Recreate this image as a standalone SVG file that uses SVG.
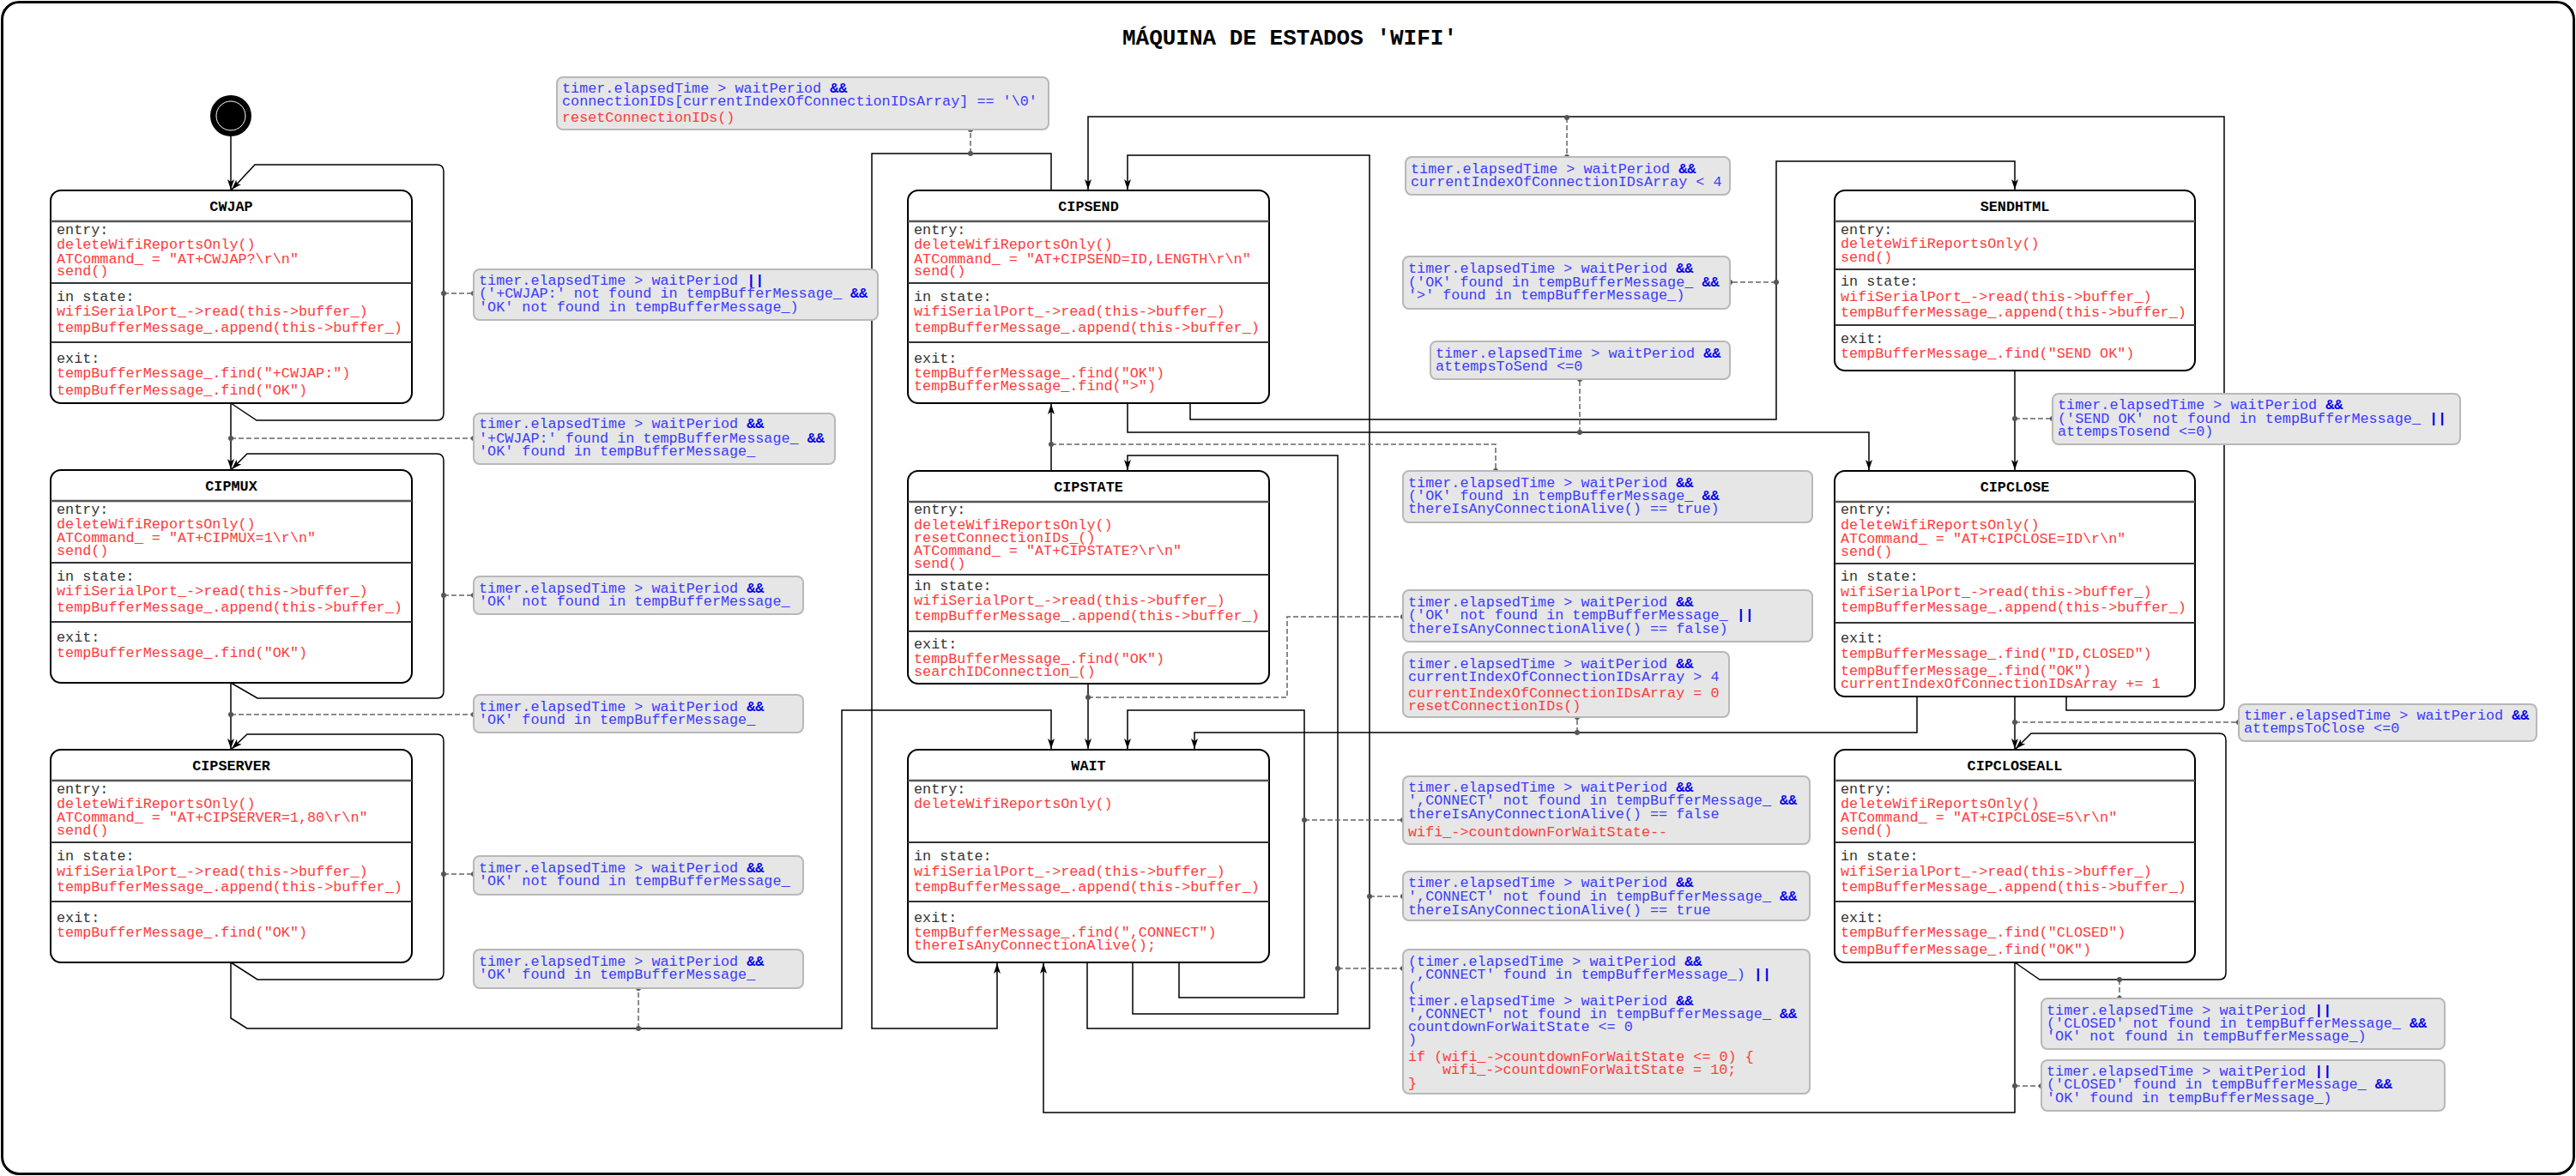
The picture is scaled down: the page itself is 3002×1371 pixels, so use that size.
<svg xmlns="http://www.w3.org/2000/svg" width="3002" height="1371" viewBox="0 0 3002 1371">
<defs>
<marker id="arr" markerUnits="userSpaceOnUse" markerWidth="13" markerHeight="10" refX="12" refY="4" orient="auto">
<path d="M0,0 L12,4 L0,8 L3,4 Z" fill="#000"/>
</marker>
<style>
text{font-family:"Liberation Mono","Courier New",monospace;font-size:16.8px;}
.box{fill:#fff;stroke:#000;stroke-width:2;}
.hs{stroke:#555;stroke-width:2.5;}
.sp{stroke:#333;stroke-width:2;}
.ttl{font-weight:bold;fill:#000;text-anchor:middle;}
.k{fill:#333;}
.r{fill:#ff3b3b;}
.b{fill:#3b3bff;}
.op{font-weight:bold;fill:#0000ee;}
.lb{fill:#e6e6e6;stroke:#b8b8b8;stroke-width:2;}
.c{fill:none;stroke:#000;stroke-width:1.5;}
.ca{fill:none;stroke:#000;stroke-width:1.5;marker-end:url(#arr);}
.d{fill:none;stroke:#666;stroke-width:1.5;stroke-dasharray:6 3;}
.dot{fill:#555;}
</style>
</defs>
<rect x="0" y="0" width="3002" height="1371" fill="#fff"/>
<rect x="2.5" y="2.5" width="2997" height="1366" rx="20" fill="none" stroke="#000" stroke-width="3"/>
<text x="1503" y="52" style="font-size:26px;font-weight:bold;text-anchor:middle;">MÁQUINA DE ESTADOS 'WIFI'</text>

<g id="connectors">
<path class="ca" d="M269,158 L269,221"/>
<path class="ca" d="M269,470 L299,490 L509,490 Q517,490 517,482 L517,200 Q517,192 509,192 L297,192 L270,221"/>
<path class="ca" d="M269,470 L269,547"/>
<path class="ca" d="M269,796 L300,814 L509,814 Q517,814 517,806 L517,537 Q517,529 509,529 L288,529 L270,547"/>
<path class="ca" d="M269,796 L269,873"/>
<path class="ca" d="M269,1122 L300,1142 L509,1142 Q517,1142 517,1134 L517,864 Q517,856 509,856 L288,856 L270,873"/>
<path class="ca" d="M269,1122 L269,1187 L288,1199 L981,1199 L981,828 L1225,828 L1225,873"/>
<path class="ca" d="M1225,222 L1225,179 L1016,179 L1016,1199 L1162,1199 L1162,1123"/>
<path class="ca" d="M1225,549 L1225,471"/>
<path class="ca" d="M1314,470 L1314,504 L2178,504 L2178,548"/>
<path class="ca" d="M1387,470 L1387,489 L2070,489 L2070,188 L2348,188 L2348,221"/>
<path class="ca" d="M2408,812 L2408,828 L2584,828 Q2592,828 2592,820 L2592,136 L1268,136 L1268,221"/>
<path class="ca" d="M1267,1122 L1267,1199 L1596,1199 L1596,181 L1314,181 L1314,221"/>
<path class="ca" d="M1320,1122 L1320,1182 L1559,1182 L1559,531 L1314,531 L1314,548"/>
<path class="ca" d="M1374,1122 L1374,1163 L1520,1163 L1520,828 L1314,828 L1314,873"/>
<path class="ca" d="M1268,797 L1268,873"/>
<path class="ca" d="M2234,812 L2234,854 L1392,854 L1392,873"/>
<path class="ca" d="M2348,432 L2348,548"/>
<path class="ca" d="M2348,812 L2348,873"/>
<path class="ca" d="M2348,1122 L2377,1142 L2586,1142 Q2594,1142 2594,1134 L2594,863 Q2594,855 2586,855 L2367,855 L2349,873"/>
<path class="ca" d="M2348,1122 L2348,1297 L1216,1297 L1216,1123"/>

<path class="d" d="M517,342 L552,342"/>
<path class="d" d="M269,511 L552,511"/>
<path class="d" d="M517,694 L552,694"/>
<path class="d" d="M269,833 L552,833"/>
<path class="d" d="M517,1019 L552,1019"/>
<path class="d" d="M744,1199 L744,1152"/>
<path class="d" d="M1131,179 L1131,151"/>
<path class="d" d="M1225,518 L1743,518 L1743,549"/>
<path class="d" d="M1841,504 L1841,442"/>
<path class="d" d="M2070,329 L2016,329"/>
<path class="d" d="M1826,137 L1826,183"/>
<path class="d" d="M1596,1045 L1635,1045"/>
<path class="d" d="M1559,1129 L1635,1129"/>
<path class="d" d="M1520,956 L1635,956"/>
<path class="d" d="M1268,813 L1500,813 L1500,719 L1635,719"/>
<path class="d" d="M1838,854 L1838,836"/>
<path class="d" d="M2348,488 L2392,488"/>
<path class="d" d="M2348,842 L2609,842"/>
<path class="d" d="M2470,1142 L2470,1164"/>
<path class="d" d="M2348,1266 L2379,1266"/>
<g class="dot">
<circle cx="517" cy="342" r="3"/><circle cx="552" cy="342" r="3"/>
<circle cx="269" cy="511" r="3"/><circle cx="552" cy="511" r="3"/>
<circle cx="517" cy="694" r="3"/><circle cx="552" cy="694" r="3"/>
<circle cx="269" cy="833" r="3"/><circle cx="552" cy="833" r="3"/>
<circle cx="517" cy="1019" r="3"/><circle cx="552" cy="1019" r="3"/>
<circle cx="744" cy="1199" r="3"/><circle cx="744" cy="1152" r="3"/>
<circle cx="1131" cy="179" r="3"/><circle cx="1131" cy="151" r="3"/>
<circle cx="1225" cy="518" r="3"/><circle cx="1743" cy="549" r="3"/>
<circle cx="1841" cy="504" r="3"/><circle cx="1841" cy="442" r="3"/>
<circle cx="2070" cy="329" r="3"/><circle cx="2016" cy="329" r="3"/>
<circle cx="1826" cy="137" r="3"/><circle cx="1826" cy="183" r="3"/>
<circle cx="1596" cy="1045" r="3"/><circle cx="1635" cy="1045" r="3"/>
<circle cx="1559" cy="1129" r="3"/><circle cx="1635" cy="1129" r="3"/>
<circle cx="1520" cy="956" r="3"/><circle cx="1635" cy="956" r="3"/>
<circle cx="1268" cy="813" r="3"/><circle cx="1635" cy="719" r="3"/>
<circle cx="1838" cy="854" r="3"/><circle cx="1838" cy="836" r="3"/>
<circle cx="2348" cy="488" r="3"/><circle cx="2392" cy="488" r="3"/>
<circle cx="2348" cy="842" r="3"/><circle cx="2609" cy="842" r="3"/>
<circle cx="2470" cy="1142" r="3"/><circle cx="2470" cy="1164" r="3"/>
<circle cx="2348" cy="1266" r="3"/><circle cx="2379" cy="1266" r="3"/>
</g>
</g>

<g id="initial">
<circle cx="269" cy="135" r="24" fill="#000"/>
<circle cx="269" cy="135" r="17" fill="none" stroke="#fff" stroke-width="1"/>
</g>

<g id="CWJAP">
<rect class="box" x="59" y="222" width="421" height="248" rx="12"/>
<line class="hs" x1="59" y1="258" x2="480" y2="258"/>
<line class="sp" x1="59" y1="330" x2="480" y2="330"/>
<line class="sp" x1="59" y1="399" x2="480" y2="399"/>
<text class="ttl" x="269.5" y="246">CWJAP</text>
<text class="k" x="66" y="273">entry:</text>
<text class="r" x="66" y="290">deleteWifiReportsOnly()</text>
<text class="r" x="66" y="307">ATCommand_ = "AT+CWJAP?\r\n"</text>
<text class="r" x="66" y="321">send()</text>
<text class="k" x="66" y="351">in state:</text>
<text class="r" x="66" y="368">wifiSerialPort_-&gt;read(this-&gt;buffer_)</text>
<text class="r" x="66" y="387">tempBufferMessage_.append(this-&gt;buffer_)</text>
<text class="k" x="66" y="423">exit:</text>
<text class="r" x="66" y="440">tempBufferMessage_.find("+CWJAP:")</text>
<text class="r" x="66" y="460">tempBufferMessage_.find("OK")</text>
</g>

<g id="CIPMUX">
<rect class="box" x="59" y="548" width="421" height="248" rx="12"/>
<line class="hs" x1="59" y1="584" x2="480" y2="584"/>
<line class="sp" x1="59" y1="656" x2="480" y2="656"/>
<line class="sp" x1="59" y1="725" x2="480" y2="725"/>
<text class="ttl" x="269.5" y="572">CIPMUX</text>
<text class="k" x="66" y="599">entry:</text>
<text class="r" x="66" y="616">deleteWifiReportsOnly()</text>
<text class="r" x="66" y="632">ATCommand_ = "AT+CIPMUX=1\r\n"</text>
<text class="r" x="66" y="647">send()</text>
<text class="k" x="66" y="677">in state:</text>
<text class="r" x="66" y="694">wifiSerialPort_-&gt;read(this-&gt;buffer_)</text>
<text class="r" x="66" y="713">tempBufferMessage_.append(this-&gt;buffer_)</text>
<text class="k" x="66" y="748">exit:</text>
<text class="r" x="66" y="766">tempBufferMessage_.find("OK")</text>
</g>

<g id="CIPSERVER">
<rect class="box" x="59" y="874" width="421" height="248" rx="12"/>
<line class="hs" x1="59" y1="910" x2="480" y2="910"/>
<line class="sp" x1="59" y1="982" x2="480" y2="982"/>
<line class="sp" x1="59" y1="1051" x2="480" y2="1051"/>
<text class="ttl" x="269.5" y="898">CIPSERVER</text>
<text class="k" x="66" y="925">entry:</text>
<text class="r" x="66" y="942">deleteWifiReportsOnly()</text>
<text class="r" x="66" y="958">ATCommand_ = "AT+CIPSERVER=1,80\r\n"</text>
<text class="r" x="66" y="973">send()</text>
<text class="k" x="66" y="1003">in state:</text>
<text class="r" x="66" y="1021">wifiSerialPort_-&gt;read(this-&gt;buffer_)</text>
<text class="r" x="66" y="1039">tempBufferMessage_.append(this-&gt;buffer_)</text>
<text class="k" x="66" y="1075">exit:</text>
<text class="r" x="66" y="1092">tempBufferMessage_.find("OK")</text>
</g>

<g id="CIPSEND">
<rect class="box" x="1058" y="222" width="421" height="248" rx="12"/>
<line class="hs" x1="1058" y1="258" x2="1479" y2="258"/>
<line class="sp" x1="1058" y1="330" x2="1479" y2="330"/>
<line class="sp" x1="1058" y1="399" x2="1479" y2="399"/>
<text class="ttl" x="1268.5" y="246">CIPSEND</text>
<text class="k" x="1065" y="273">entry:</text>
<text class="r" x="1065" y="290">deleteWifiReportsOnly()</text>
<text class="r" x="1065" y="307">ATCommand_ = "AT+CIPSEND=ID,LENGTH\r\n"</text>
<text class="r" x="1065" y="321">send()</text>
<text class="k" x="1065" y="351">in state:</text>
<text class="r" x="1065" y="368">wifiSerialPort_-&gt;read(this-&gt;buffer_)</text>
<text class="r" x="1065" y="387">tempBufferMessage_.append(this-&gt;buffer_)</text>
<text class="k" x="1065" y="423">exit:</text>
<text class="r" x="1065" y="440">tempBufferMessage_.find("OK")</text>
<text class="r" x="1065" y="455">tempBufferMessage_.find("&gt;")</text>
</g>

<g id="CIPSTATE">
<rect class="box" x="1058" y="549" width="421" height="248" rx="12"/>
<line class="hs" x1="1058" y1="585" x2="1479" y2="585"/>
<line class="sp" x1="1058" y1="670" x2="1479" y2="670"/>
<line class="sp" x1="1058" y1="736" x2="1479" y2="736"/>
<text class="ttl" x="1268.5" y="573">CIPSTATE</text>
<text class="k" x="1065" y="599">entry:</text>
<text class="r" x="1065" y="617">deleteWifiReportsOnly()</text>
<text class="r" x="1065" y="632">resetConnectionIDs_()</text>
<text class="r" x="1065" y="647">ATCommand_ = "AT+CIPSTATE?\r\n"</text>
<text class="r" x="1065" y="662">send()</text>
<text class="k" x="1065" y="688">in state:</text>
<text class="r" x="1065" y="705">wifiSerialPort_-&gt;read(this-&gt;buffer_)</text>
<text class="r" x="1065" y="723">tempBufferMessage_.append(this-&gt;buffer_)</text>
<text class="k" x="1065" y="756">exit:</text>
<text class="r" x="1065" y="773">tempBufferMessage_.find("OK")</text>
<text class="r" x="1065" y="788">searchIDConnection_()</text>
</g>

<g id="WAIT">
<rect class="box" x="1058" y="874" width="421" height="248" rx="12"/>
<line class="hs" x1="1058" y1="910" x2="1479" y2="910"/>
<line class="sp" x1="1058" y1="982" x2="1479" y2="982"/>
<line class="sp" x1="1058" y1="1051" x2="1479" y2="1051"/>
<text class="ttl" x="1268.5" y="898">WAIT</text>
<text class="k" x="1065" y="925">entry:</text>
<text class="r" x="1065" y="942">deleteWifiReportsOnly()</text>
<text class="k" x="1065" y="1003">in state:</text>
<text class="r" x="1065" y="1021">wifiSerialPort_-&gt;read(this-&gt;buffer_)</text>
<text class="r" x="1065" y="1039">tempBufferMessage_.append(this-&gt;buffer_)</text>
<text class="k" x="1065" y="1075">exit:</text>
<text class="r" x="1065" y="1092">tempBufferMessage_.find(",CONNECT")</text>
<text class="r" x="1065" y="1107">thereIsAnyConnectionAlive();</text>
</g>

<g id="SENDHTML">
<rect class="box" x="2138" y="222" width="420" height="210" rx="12"/>
<line class="hs" x1="2138" y1="258" x2="2558" y2="258"/>
<line class="sp" x1="2138" y1="314" x2="2558" y2="314"/>
<line class="sp" x1="2138" y1="379" x2="2558" y2="379"/>
<text class="ttl" x="2348" y="246">SENDHTML</text>
<text class="k" x="2145" y="273">entry:</text>
<text class="r" x="2145" y="289">deleteWifiReportsOnly()</text>
<text class="r" x="2145" y="305">send()</text>
<text class="k" x="2145" y="333">in state:</text>
<text class="r" x="2145" y="351">wifiSerialPort_-&gt;read(this-&gt;buffer_)</text>
<text class="r" x="2145" y="369">tempBufferMessage_.append(this-&gt;buffer_)</text>
<text class="k" x="2145" y="400">exit:</text>
<text class="r" x="2145" y="417">tempBufferMessage_.find("SEND OK")</text>
</g>

<g id="CIPCLOSE">
<rect class="box" x="2138" y="549" width="420" height="263" rx="12"/>
<line class="hs" x1="2138" y1="585" x2="2558" y2="585"/>
<line class="sp" x1="2138" y1="657" x2="2558" y2="657"/>
<line class="sp" x1="2138" y1="726" x2="2558" y2="726"/>
<text class="ttl" x="2348" y="573">CIPCLOSE</text>
<text class="k" x="2145" y="599">entry:</text>
<text class="r" x="2145" y="617">deleteWifiReportsOnly()</text>
<text class="r" x="2145" y="633">ATCommand_ = "AT+CIPCLOSE=ID\r\n"</text>
<text class="r" x="2145" y="648">send()</text>
<text class="k" x="2145" y="677">in state:</text>
<text class="r" x="2145" y="695">wifiSerialPort_-&gt;read(this-&gt;buffer_)</text>
<text class="r" x="2145" y="713">tempBufferMessage_.append(this-&gt;buffer_)</text>
<text class="k" x="2145" y="749">exit:</text>
<text class="r" x="2145" y="767">tempBufferMessage_.find("ID,CLOSED")</text>
<text class="r" x="2145" y="787">tempBufferMessage_.find("OK")</text>
<text class="r" x="2145" y="802">currentIndexOfConnectionIDsArray += 1</text>
</g>

<g id="CIPCLOSEALL">
<rect class="box" x="2138" y="874" width="420" height="248" rx="12"/>
<line class="hs" x1="2138" y1="910" x2="2558" y2="910"/>
<line class="sp" x1="2138" y1="982" x2="2558" y2="982"/>
<line class="sp" x1="2138" y1="1051" x2="2558" y2="1051"/>
<text class="ttl" x="2348" y="898">CIPCLOSEALL</text>
<text class="k" x="2145" y="925">entry:</text>
<text class="r" x="2145" y="942">deleteWifiReportsOnly()</text>
<text class="r" x="2145" y="958">ATCommand_ = "AT+CIPCLOSE=5\r\n"</text>
<text class="r" x="2145" y="973">send()</text>
<text class="k" x="2145" y="1003">in state:</text>
<text class="r" x="2145" y="1021">wifiSerialPort_-&gt;read(this-&gt;buffer_)</text>
<text class="r" x="2145" y="1039">tempBufferMessage_.append(this-&gt;buffer_)</text>
<text class="k" x="2145" y="1075">exit:</text>
<text class="r" x="2145" y="1092">tempBufferMessage_.find("CLOSED")</text>
<text class="r" x="2145" y="1112">tempBufferMessage_.find("OK")</text>
</g>

<g id="label-A">
<rect class="lb" x="649" y="90" width="573" height="61" rx="7"/>
<text class="b" x="655" y="108">timer.elapsedTime &gt; waitPeriod <tspan class="op">&amp;&amp;</tspan></text>
<text class="b" x="655" y="123">connectionIDs[currentIndexOfConnectionIDsArray] == '\0'</text>
<text class="r" x="655" y="142">resetConnectionIDs()</text>
</g>
<g id="label-B">
<rect class="lb" x="552" y="314" width="471" height="59" rx="7"/>
<text class="b" x="558" y="332">timer.elapsedTime &gt; waitPeriod <tspan class="op">||</tspan></text>
<text class="b" x="558" y="347">('+CWJAP:' not found in tempBufferMessage_ <tspan class="op">&amp;&amp;</tspan></text>
<text class="b" x="558" y="363">'OK' not found in tempBufferMessage_)</text>
</g>
<g id="label-C">
<rect class="lb" x="552" y="482" width="421" height="59" rx="7"/>
<text class="b" x="558" y="499">timer.elapsedTime &gt; waitPeriod <tspan class="op">&amp;&amp;</tspan></text>
<text class="b" x="558" y="516">'+CWJAP:' found in tempBufferMessage_ <tspan class="op">&amp;&amp;</tspan></text>
<text class="b" x="558" y="531">'OK' found in tempBufferMessage_</text>
</g>
<g id="label-D">
<rect class="lb" x="552" y="672" width="384" height="44" rx="7"/>
<text class="b" x="558" y="691">timer.elapsedTime &gt; waitPeriod <tspan class="op">&amp;&amp;</tspan></text>
<text class="b" x="558" y="706">'OK' not found in tempBufferMessage_</text>
</g>
<g id="label-E">
<rect class="lb" x="552" y="810" width="384" height="44" rx="7"/>
<text class="b" x="558" y="829">timer.elapsedTime &gt; waitPeriod <tspan class="op">&amp;&amp;</tspan></text>
<text class="b" x="558" y="844">'OK' found in tempBufferMessage_</text>
</g>
<g id="label-F">
<rect class="lb" x="552" y="998" width="384" height="45" rx="7"/>
<text class="b" x="558" y="1017">timer.elapsedTime &gt; waitPeriod <tspan class="op">&amp;&amp;</tspan></text>
<text class="b" x="558" y="1032">'OK' not found in tempBufferMessage_</text>
</g>
<g id="label-G">
<rect class="lb" x="552" y="1107" width="384" height="45" rx="7"/>
<text class="b" x="558" y="1126">timer.elapsedTime &gt; waitPeriod <tspan class="op">&amp;&amp;</tspan></text>
<text class="b" x="558" y="1141">'OK' found in tempBufferMessage_</text>
</g>
<g id="label-K">
<rect class="lb" x="1638" y="183" width="378" height="44" rx="7"/>
<text class="b" x="1644" y="202">timer.elapsedTime &gt; waitPeriod <tspan class="op">&amp;&amp;</tspan></text>
<text class="b" x="1644" y="217">currentIndexOfConnectionIDsArray &lt; 4</text>
</g>
<g id="label-J">
<rect class="lb" x="1635" y="299" width="381" height="61" rx="7"/>
<text class="b" x="1641" y="318">timer.elapsedTime &gt; waitPeriod <tspan class="op">&amp;&amp;</tspan></text>
<text class="b" x="1641" y="334">('OK' found in tempBufferMessage_ <tspan class="op">&amp;&amp;</tspan></text>
<text class="b" x="1641" y="349">'&gt;' found in tempBufferMessage_)</text>
</g>
<g id="label-I">
<rect class="lb" x="1667" y="398" width="349" height="44" rx="7"/>
<text class="b" x="1673" y="417">timer.elapsedTime &gt; waitPeriod <tspan class="op">&amp;&amp;</tspan></text>
<text class="b" x="1673" y="432">attempsToSend &lt;=0</text>
</g>
<g id="label-H">
<rect class="lb" x="1635" y="549" width="477" height="60" rx="7"/>
<text class="b" x="1641" y="568">timer.elapsedTime &gt; waitPeriod <tspan class="op">&amp;&amp;</tspan></text>
<text class="b" x="1641" y="583">('OK' found in tempBufferMessage_ <tspan class="op">&amp;&amp;</tspan></text>
<text class="b" x="1641" y="598">thereIsAnyConnectionAlive() == true)</text>
</g>
<g id="label-P">
<rect class="lb" x="1635" y="688" width="477" height="60" rx="7"/>
<text class="b" x="1641" y="707">timer.elapsedTime &gt; waitPeriod <tspan class="op">&amp;&amp;</tspan></text>
<text class="b" x="1641" y="722">('OK' not found in tempBufferMessage_ <tspan class="op">||</tspan></text>
<text class="b" x="1641" y="738">thereIsAnyConnectionAlive() == false)</text>
</g>
<g id="label-O">
<rect class="lb" x="1635" y="760" width="380" height="76" rx="7"/>
<text class="b" x="1641" y="779">timer.elapsedTime &gt; waitPeriod <tspan class="op">&amp;&amp;</tspan></text>
<text class="b" x="1641" y="794">currentIndexOfConnectionIDsArray &gt; 4</text>
<text class="r" x="1641" y="813">currentIndexOfConnectionIDsArray = 0</text>
<text class="r" x="1641" y="828">resetConnectionIDs()</text>
</g>
<g id="label-L">
<rect class="lb" x="1635" y="905" width="474" height="79" rx="7"/>
<text class="b" x="1641" y="923">timer.elapsedTime &gt; waitPeriod <tspan class="op">&amp;&amp;</tspan></text>
<text class="b" x="1641" y="938">',CONNECT' not found in tempBufferMessage_ <tspan class="op">&amp;&amp;</tspan></text>
<text class="b" x="1641" y="954">thereIsAnyConnectionAlive() == false</text>
<text class="r" x="1641" y="975">wifi_-&gt;countdownForWaitState--</text>
</g>
<g id="label-M">
<rect class="lb" x="1635" y="1016" width="474" height="57" rx="7"/>
<text class="b" x="1641" y="1034">timer.elapsedTime &gt; waitPeriod <tspan class="op">&amp;&amp;</tspan></text>
<text class="b" x="1641" y="1050">',CONNECT' not found in tempBufferMessage_ <tspan class="op">&amp;&amp;</tspan></text>
<text class="b" x="1641" y="1066">thereIsAnyConnectionAlive() == true</text>
</g>
<g id="label-N">
<rect class="lb" x="1635" y="1107" width="474" height="168" rx="7"/>
<text class="b" x="1641" y="1126">(timer.elapsedTime &gt; waitPeriod <tspan class="op">&amp;&amp;</tspan></text>
<text class="b" x="1641" y="1141">',CONNECT' found in tempBufferMessage_) <tspan class="op">||</tspan></text>
<text class="b" x="1641" y="1156">(</text>
<text class="b" x="1641" y="1172">timer.elapsedTime &gt; waitPeriod <tspan class="op">&amp;&amp;</tspan></text>
<text class="b" x="1641" y="1187">',CONNECT' not found in tempBufferMessage_ <tspan class="op">&amp;&amp;</tspan></text>
<text class="b" x="1641" y="1202">countdownForWaitState &lt;= 0</text>
<text class="b" x="1641" y="1217">)</text>
<text class="r" x="1641" y="1237">if (wifi_-&gt;countdownForWaitState &lt;= 0) {</text>
<text class="r" x="1681" y="1252">wifi_-&gt;countdownForWaitState = 10;</text>
<text class="r" x="1641" y="1268">}</text>
</g>
<g id="label-Q">
<rect class="lb" x="2392" y="459" width="475" height="59" rx="7"/>
<text class="b" x="2398" y="477">timer.elapsedTime &gt; waitPeriod <tspan class="op">&amp;&amp;</tspan></text>
<text class="b" x="2398" y="493">('SEND OK' not found in tempBufferMessage_ <tspan class="op">||</tspan></text>
<text class="b" x="2398" y="508">attempsTosend &lt;=0)</text>
</g>
<g id="label-R">
<rect class="lb" x="2609" y="821" width="347" height="43" rx="7"/>
<text class="b" x="2615" y="839">timer.elapsedTime &gt; waitPeriod <tspan class="op">&amp;&amp;</tspan></text>
<text class="b" x="2615" y="854">attempsToClose &lt;=0</text>
</g>
<g id="label-S">
<rect class="lb" x="2379" y="1164" width="470" height="59" rx="7"/>
<text class="b" x="2385" y="1183">timer.elapsedTime &gt; waitPeriod <tspan class="op">||</tspan></text>
<text class="b" x="2385" y="1198">('CLOSED' not found in tempBufferMessage_ <tspan class="op">&amp;&amp;</tspan></text>
<text class="b" x="2385" y="1213">'OK' not found in tempBufferMessage_)</text>
</g>
<g id="label-T">
<rect class="lb" x="2379" y="1236" width="470" height="59" rx="7"/>
<text class="b" x="2385" y="1254">timer.elapsedTime &gt; waitPeriod <tspan class="op">||</tspan></text>
<text class="b" x="2385" y="1269">('CLOSED' found in tempBufferMessage_ <tspan class="op">&amp;&amp;</tspan></text>
<text class="b" x="2385" y="1285">'OK' found in tempBufferMessage_)</text>
</g>
</svg>
